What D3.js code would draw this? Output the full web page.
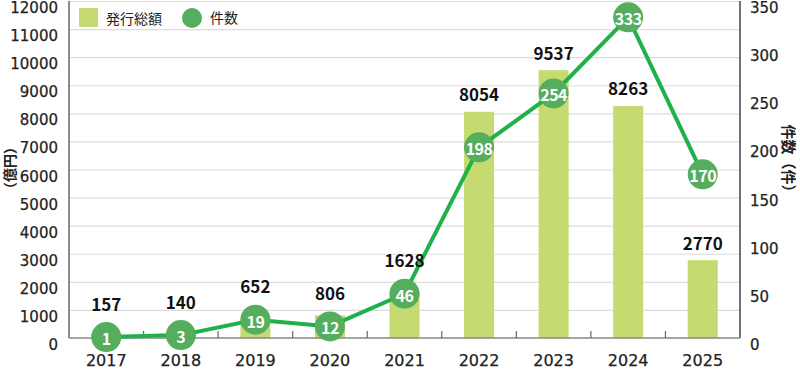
<!DOCTYPE html>
<html lang="ja">
<head>
<meta charset="UTF-8">
<title>発行総額と件数</title>
<style>
  * { margin: 0; padding: 0; }
  body { background: #fff; width: 800px; height: 374px; overflow: hidden; }
  svg { font-family: "Noto Sans CJK JP", "Noto Sans", sans-serif; }
  .tick { font-family: "DejaVu Sans", sans-serif; fill: #222; stroke: #222; stroke-width: 0.25; }
</style>
</head>
<body>
<svg id="chart" width="800" height="374"></svg>
<script src="https://cdn.jsdelivr.net/npm/d3@7"></script>
<script>
const years = ["2017", "2018", "2019", "2020", "2021", "2022", "2023", "2024", "2025"];
const amounts = [157, 140, 652, 806, 1628, 8054, 9537, 8263, 2770];
const counts = [1, 3, 19, 12, 46, 198, 254, 333, 170];
const leftTicks = [0, 1000, 2000, 3000, 4000, 5000, 6000, 7000, 8000, 9000, 10000, 11000, 12000];
const rightTicks = [0, 50, 100, 150, 200, 250, 300, 350];

const plotL = 69, plotR = 740, plotT = 1, plotB = 338;
const barColor = "#c5da70", lineColor = "#1fb14a", dotColor = "#55ad5e";

const svg = d3.select("#chart");

const x = d3.scaleBand().domain(years).range([plotL, plotR]);
const yL = d3.scaleLinear().domain([0, 12000]).range([plotB, plotT]);
const yR = d3.scaleLinear().domain([0, 350]).range([plotB, plotT]);

// grid
svg.append("g").selectAll("line")
  .data(leftTicks.slice(1))
  .join("line")
  .attr("x1", plotL).attr("x2", plotR)
  .attr("y1", d => yL(d) + 0.5).attr("y2", d => yL(d) + 0.5)
  .attr("stroke", "#dcdcdc").attr("stroke-width", 1.2);

// left tick labels
svg.append("g").selectAll("text")
  .data(leftTicks)
  .join("text")
  .attr("class", "tick")
  .attr("x", 58).attr("y", d => yL(d) + 7)
  .attr("text-anchor", "end").attr("dominant-baseline", "central")
  .attr("font-size", 15)
  .text(d => d);

// right tick labels
svg.append("g").selectAll("text")
  .data(rightTicks)
  .join("text")
  .attr("class", "tick")
  .attr("x", 750).attr("y", d => yR(d) + 7)
  .attr("text-anchor", "start").attr("dominant-baseline", "central")
  .attr("font-size", 15)
  .text(d => d);

// bars
svg.append("g").selectAll("rect")
  .data(years)
  .join("rect")
  .attr("x", d => x(d) + x.bandwidth() / 2 - 15)
  .attr("width", 30)
  .attr("y", (d, i) => yL(amounts[i]))
  .attr("height", (d, i) => plotB - yL(amounts[i]))
  .attr("fill", barColor);

// axes
svg.append("line").attr("x1", plotL).attr("x2", plotL).attr("y1", plotT).attr("y2", plotB)
  .attr("stroke", "#666").attr("stroke-width", 1.5);
svg.append("line").attr("x1", plotR).attr("x2", plotR).attr("y1", plotT).attr("y2", plotB)
  .attr("stroke", "#444").attr("stroke-width", 1.5);
svg.append("line").attr("x1", plotL).attr("x2", plotR).attr("y1", plotB).attr("y2", plotB)
  .attr("stroke", "#888").attr("stroke-width", 1.5);
svg.append("g").selectAll("line")
  .data(years.slice(1))
  .join("line")
  .attr("x1", d => x(d)).attr("x2", d => x(d))
  .attr("y1", plotB - 7).attr("y2", plotB)
  .attr("stroke", "#666").attr("stroke-width", 1.2);

// x labels
svg.append("g").selectAll("text")
  .data(years)
  .join("text")
  .attr("class", "tick")
  .attr("x", d => x(d) + x.bandwidth() / 2).attr("y", 360)
  .attr("text-anchor", "middle").attr("dominant-baseline", "central")
  .attr("font-size", 16)
  .text(d => d);

// line
const cx = d => x(d) + x.bandwidth() / 2;
svg.append("path")
  .datum(years)
  .attr("d", d3.line().x(cx).y((d, i) => yR(counts[i])))
  .attr("fill", "none").attr("stroke", lineColor).attr("stroke-width", 4);

// amount labels: above the bar, or above the dot when the dot sits there
const r = 15;
function labelY(i) {
  const ly = yL(amounts[i]) - 18;
  const dy = yR(counts[i]);
  return Math.abs(ly - dy) < r + 18 ? dy - r - 19 : ly;
}
svg.append("g").selectAll("text")
  .data(years)
  .join("text")
  .attr("x", cx)
  .attr("y", (d, i) => labelY(i))
  .attr("text-anchor", "middle").attr("dominant-baseline", "central")
  .attr("font-size", 17).attr("font-weight", 700).attr("fill", "#111")
  .text((d, i) => amounts[i]);

// dots
const dots = svg.append("g").selectAll("g")
  .data(years)
  .join("g")
  .attr("transform", (d, i) => `translate(${cx(d)},${yR(counts[i])})`);
dots.append("circle").attr("r", r).attr("fill", dotColor);
dots.append("text")
  .attr("text-anchor", "middle").attr("dominant-baseline", "central")
  .attr("y", 1)
  .attr("font-size", 16).attr("font-weight", 700).attr("fill", "#fff")
  .attr("letter-spacing", -0.5)
  .text((d, i) => counts[i]);

// axis titles
svg.append("text")
  .attr("transform", "translate(9,168) rotate(-90)")
  .attr("text-anchor", "middle").attr("dominant-baseline", "central")
  .attr("font-size", 14).attr("font-weight", 700).attr("fill", "#222")
  .text("（億円）");
svg.append("text")
  .attr("transform", "translate(789,162) rotate(90)")
  .attr("text-anchor", "middle").attr("dominant-baseline", "central")
  .attr("font-size", 15).attr("font-weight", 700).attr("fill", "#222")
  .text("件数（件）");

// legend
svg.append("rect").attr("x", 79).attr("y", 8).attr("width", 19).attr("height", 19).attr("fill", barColor);
svg.append("text").attr("x", 106).attr("y", 18).attr("dominant-baseline", "central")
  .attr("font-size", 14).attr("fill", "#222").text("発行総額");
svg.append("circle").attr("cx", 192).attr("cy", 18).attr("r", 10).attr("fill", dotColor);
svg.append("text").attr("x", 210).attr("y", 17).attr("dominant-baseline", "central")
  .attr("font-size", 14).attr("fill", "#222").text("件数");
</script>
</body>
</html>
